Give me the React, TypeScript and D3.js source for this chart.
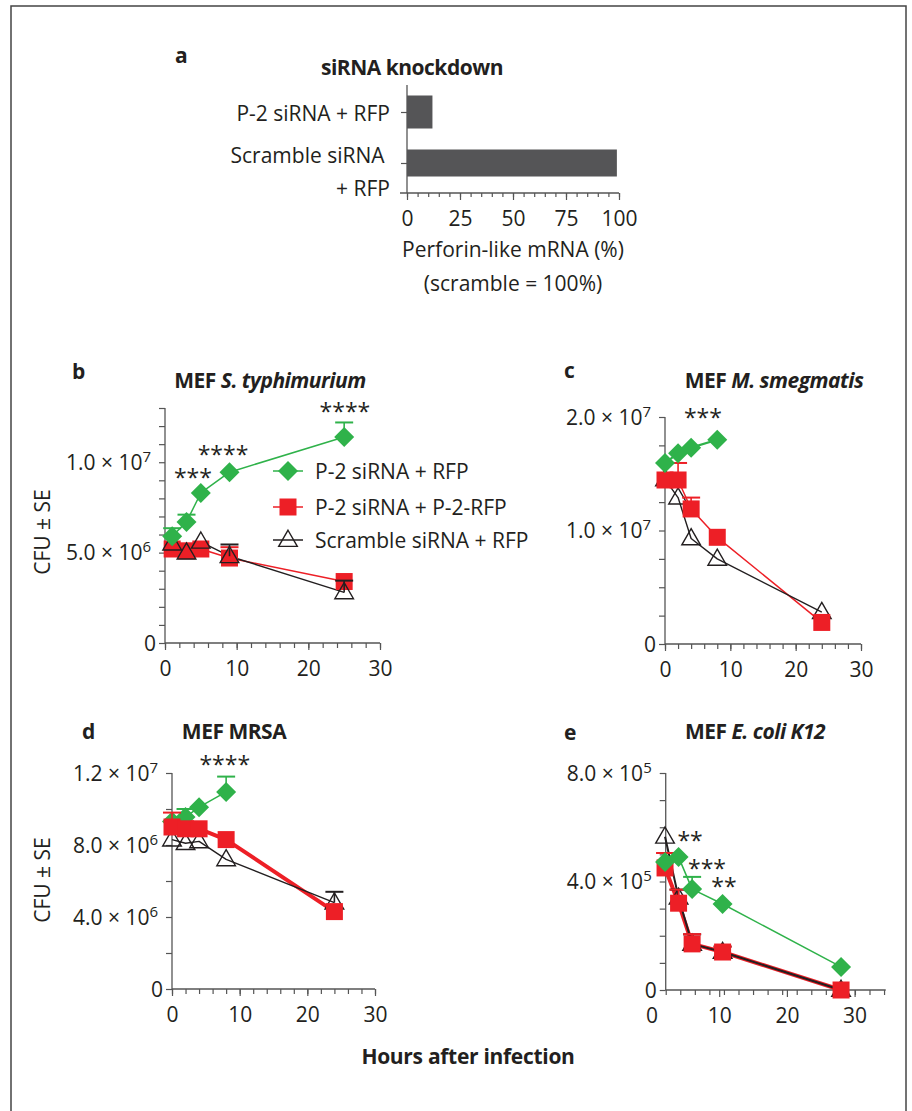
import React, { useEffect, useRef } from "react";
import * as d3 from "d3";

const FONT = "'Open Sans', sans-serif";
const FS = 21;
const GREEN = "#2fb24a";
const RED = "#ed1f26";
const INK = "#231f20";
const AXIS = "#555555";
const BAR = "#555557";

// a: siRNA knockdown
const kdCategories = ["P-2", "Scramble"];
const kdLabelLines = [["P-2 siRNA + RFP"], ["Scramble siRNA ", "+ RFP"]];
const kdValues = [12, 99];
const kdTicks = [0, 25, 50, 75, 100];

const legendNames = ["P-2 siRNA + RFP", "P-2 siRNA + P-2-RFP", "Scramble siRNA + RFP"];

// b: MEF S. typhimurium
const bHours = [1, 3, 5, 9, 25];
const bGreen = [5.9e6, 6.7e6, 8.3e6, 9.45e6, 11.4e6];
const bGreenSE = [0.45e6, 0.4e6, 0, 0, 0.8e6];
const bRed = [5.2e6, 5.1e6, 5.2e6, 4.7e6, 3.4e6];
const bRedSE = [0, 0, 0, 0.6e6, 0];
const bBlack = [5.5e6, 5.0e6, 5.6e6, 4.8e6, 2.8e6];
const bBlackSE = [0, 0, 0, 0.65e6, 0.65e6];

// c: MEF M. smegmatis
const cHours = [0, 2, 4, 8, 24];
const cGreen = [1.595e7, 1.68e7, 1.73e7, 1.8e7];
const cGreenSE = [0, 0, 0, 0];
const cRed = [1.445e7, 1.445e7, 1.19e7, 0.94e7, 0.19e7];
const cRedSE = [0, 0.15e7, 0.1e7, 0, 0];
const cBlack = [1.45e7, 1.29e7, 0.93e7, 0.75e7, 0.28e7];
const cBlackSE = [0, 0, 0, 0, 0];

// d: MEF MRSA
const dHours = [0, 2, 4, 8, 24];
const dGreen = [9.3e6, 9.55e6, 1.01e7, 1.095e7];
const dGreenSE = [0, 0.45e6, 0, 0.85e6];
const dRed = [9.0e6, 8.9e6, 8.9e6, 8.3e6, 4.3e6];
const dRedSE = [0.8e6, 0, 0, 0, 0];
const dBlack = [8.3e6, 8.1e6, 8.2e6, 7.2e6, 4.8e6];
const dBlackSE = [0, 0, 0, 0, 0.6e6];

// e: MEF E. coli K12
const eHours = [2, 4, 6, 10.5, 28];
const eGreen = [4.72e5, 4.9e5, 3.72e5, 3.17e5, 0.85e5];
const eGreenSE = [0, 0, 0.45e5, 0, 0];
const eRed = [4.5e5, 3.2e5, 1.7e5, 1.4e5, 0];
const eRedSE = [0.55e5, 0.5e5, 0.36e5, 0.2e5, 0];
const eBlack = [5.65e5, 3.4e5, 1.7e5, 1.4e5, 0];
const eBlackSE = [0, 0.3e5, 0.35e5, 0.2e5, 0];

const bStars = [
  { h: 3.9, v: 9.3e6, t: "***" },
  { h: 8.1, v: 1.056e7, t: "****" },
  { h: 25.1, v: 1.294e7, t: "****" },
];
const cStars = [{ h: 5.8, v: 2.02e7, t: "***" }];
const dStars = [{ h: 7.8, v: 1.26e7, t: "****" }];
const eStars = [
  { h: 5.7, v: 5.6e5, t: "**" },
  { h: 8.2, v: 4.58e5, t: "***" },
  { h: 10.7, v: 3.9e5, t: "**" },
];

const styleOf = {
  green: { color: GREEN, kind: "diamond" },
  red: { color: RED, kind: "square" },
  black: { color: INK, kind: "triangle" },
};

const panels = [
  {
    letter: "b", letterX: 72, letterY: 379,
    title: [["MEF ", false], ["S. typhimurium", true]], titleX: 270, titleY: 388,
    xRange: [165, 380], yRange: [643, 408], yTop: 1.3e7, yStep: 1e6, yLabels: [0, 5e6, 1e7],
    yAxisAt: 0, xEnd: 30, xMinor: d3.range(0, 31, 2),
    series: [
      { key: "green", hours: bHours, values: bGreen, se: bGreenSE, width: 1.5 },
      { key: "red", hours: bHours, values: bRed, se: bRedSE, width: 1.5 },
      { key: "black", hours: bHours, values: bBlack, se: bBlackSE, width: 1.4 },
    ],
    order: ["red", "black", "green"],
    stars: bStars, legend: true, yTitle: 532,
  },
  {
    letter: "c", letterX: 564, letterY: 378,
    title: [["MEF ", false], ["M. smegmatis", true]], titleX: 774, titleY: 388,
    xRange: [665, 861], yRange: [644, 417], yTop: 2e7, yStep: 2.5e6, yLabels: [0, 1e7, 2e7],
    yAxisAt: 0, xEnd: 30, xMinor: d3.range(0, 31, 2),
    series: [
      { key: "green", hours: cHours, values: cGreen, se: cGreenSE, width: 2.2 },
      { key: "red", hours: cHours, values: cRed, se: cRedSE, width: 1.5 },
      { key: "black", hours: cHours, values: cBlack, se: cBlackSE, width: 1.4 },
    ],
    order: ["black", "red", "green"],
    stars: cStars, legend: false,
  },
  {
    letter: "d", letterX: 82, letterY: 739,
    title: [["MEF MRSA", false]], titleX: 234, titleY: 739,
    xRange: [172, 375], yRange: [989, 773], yTop: 1.2e7, yStep: 2e6, yLabels: [0, 4e6, 8e6, 1.2e7],
    yAxisAt: 0, xEnd: 30, xMinor: d3.range(0, 31, 2),
    series: [
      { key: "green", hours: dHours, values: dGreen, se: dGreenSE, width: 1.5 },
      { key: "red", hours: dHours, values: dRed, se: dRedSE, width: 4 },
      { key: "black", hours: dHours, values: dBlack, se: dBlackSE, width: 1.4 },
    ],
    order: ["black", "green", "red"],
    stars: dStars, legend: false, yTitle: 880,
  },
  {
    letter: "e", letterX: 564, letterY: 740,
    title: [["MEF ", false], ["E. coli K12", true]], titleX: 755, titleY: 739,
    xRange: [651.5, 854.6], yRange: [990, 773], yTop: 8e5, yStep: 1e5, yLabels: [0, 4e5, 8e5],
    yAxisAt: 2.1, xEnd: 34.6, xMinor: d3.range(2.1, 34.7, 2.15),
    series: [
      { key: "green", hours: eHours, values: eGreen, se: eGreenSE, width: 1.5 },
      { key: "red", hours: eHours, values: eRed, se: eRedSE, width: 4 },
      { key: "black", hours: eHours, values: eBlack, se: eBlackSE, width: 2 },
    ],
    order: ["black", "red", "green"],
    stars: eStars, legend: false,
  },
];

const symbolPath = (kind) => {
  if (kind === "diamond") return d3.symbol(d3.symbolSquare, 200)();
  if (kind === "square") return d3.symbol(d3.symbolSquare, 289)();
  return d3.symbol(d3.symbolTriangle, 150)();
};

const drawMarker = (g, kind, color, cx, cy) => {
  const p = g.append("path").attr("d", symbolPath(kind));
  if (kind === "diamond") {
    p.attr("transform", `translate(${cx},${cy}) rotate(45)`).attr("fill", color);
  } else if (kind === "square") {
    p.attr("transform", `translate(${cx},${cy})`).attr("fill", color);
  } else {
    p.attr("transform", `translate(${cx},${cy + 1})`)
      .attr("fill", "none").attr("stroke", color).attr("stroke-width", 1.4);
  }
};

const sciLabel = (sel, v) => {
  if (v === 0) {
    sel.text("0");
    return;
  }
  const e = Math.floor(Math.log10(v) + 1e-9);
  const m = (v / Math.pow(10, e)).toFixed(1);
  sel.append("tspan").text(`${m} \u00d7 10`);
  sel.append("tspan").attr("font-size", 15).attr("dy", -8).text(String(e));
};

const drawPanel = (root, p) => {
  const g = root.append("g");
  const x = d3.scaleLinear().domain([0, 30]).range(p.xRange);
  const y = d3.scaleLinear().domain([0, p.yTop]).range(p.yRange);
  const ax = x(p.yAxisAt);
  const y0 = y(0);

  // axis lines
  g.append("line").attr("x1", ax).attr("x2", ax).attr("y1", y0).attr("y2", y(p.yTop))
    .attr("stroke", AXIS).attr("stroke-width", 1.3);
  g.append("line").attr("x1", ax).attr("x2", x(p.xEnd)).attr("y1", y0).attr("y2", y0)
    .attr("stroke", AXIS).attr("stroke-width", 1.3);

  // x ticks
  const xg = g.append("g").attr("transform", `translate(0,${y0})`);
  xg.call(d3.axisBottom(x).tickValues(p.xMinor).tickSize(5).tickSizeOuter(0).tickFormat(() => ""));
  xg.select(".domain").remove();
  xg.selectAll("line").attr("stroke", AXIS).attr("stroke-width", 1.2);

  const xm = g.append("g").attr("transform", `translate(0,${y0})`);
  xm.call(d3.axisBottom(x).tickValues([0, 10, 20, 30]).tickSize(7).tickPadding(11).tickSizeOuter(0));
  xm.select(".domain").remove();
  xm.selectAll("line").attr("stroke", AXIS).attr("stroke-width", 1.2)
    .attr("display", (d) => (d >= p.yAxisAt - 0.01 ? null : "none"));
  xm.selectAll("text").attr("font-size", FS).attr("font-family", FONT).attr("fill", INK);

  // y ticks
  const yg = g.append("g").attr("transform", `translate(${ax},0)`);
  yg.call(d3.axisLeft(y).tickValues(d3.range(0, p.yTop + p.yStep / 2, p.yStep)).tickSize(6).tickSizeOuter(0).tickFormat(() => ""));
  yg.select(".domain").remove();
  yg.selectAll("line").attr("stroke", AXIS).attr("stroke-width", 1.2);

  p.yLabels.forEach((v) => {
    const t = g.append("text").attr("x", ax - (v === 0 ? 9 : 14)).attr("y", y(v) + 7.5)
      .attr("text-anchor", "end").attr("font-size", FS).attr("font-family", FONT).attr("fill", INK);
    sciLabel(t, v);
  });

  // lines
  p.series.forEach((s) => {
    const st = styleOf[s.key];
    const pts = s.values.map((v, i) => [s.hours[i], v]);
    g.append("path").attr("d", d3.line().x((d) => x(d[0])).y((d) => y(d[1]))(pts))
      .attr("fill", "none").attr("stroke", st.color).attr("stroke-width", s.width)
      .attr("stroke-linejoin", "round");
  });

  // error bars + markers
  p.order.forEach((key) => {
    const s = p.series.find((q) => q.key === key);
    const st = styleOf[key];
    s.values.forEach((v, i) => {
      if (s.se[i] > 0) {
        const cx = x(s.hours[i]);
        g.append("line").attr("x1", cx).attr("x2", cx).attr("y1", y(v)).attr("y2", y(v + s.se[i]))
          .attr("stroke", st.color).attr("stroke-width", 1.6);
        g.append("line").attr("x1", cx - 9).attr("x2", cx + 9).attr("y1", y(v + s.se[i])).attr("y2", y(v + s.se[i]))
          .attr("stroke", st.color).attr("stroke-width", 2);
      }
    });
    s.values.forEach((v, i) => drawMarker(g, st.kind, st.color, x(s.hours[i]), y(v)));
  });

  // significance stars
  p.stars.forEach((s) => {
    g.append("text").attr("x", x(s.h)).attr("y", y(s.v) + 11).attr("text-anchor", "middle")
      .attr("font-size", 23).attr("font-family", FONT).attr("fill", INK).text(s.t);
  });

  // title and letter
  const tt = g.append("text").attr("x", p.titleX).attr("y", p.titleY).attr("text-anchor", "middle")
    .attr("font-size", FS).attr("font-weight", "bold").attr("font-family", FONT).attr("fill", INK)
    .attr("letter-spacing", -0.5);
  p.title.forEach(([txt, it]) => tt.append("tspan").attr("font-style", it ? "italic" : "normal").text(txt));
  g.append("text").attr("x", p.letterX).attr("y", p.letterY).attr("font-size", FS)
    .attr("font-weight", "bold").attr("font-family", FONT).attr("fill", INK).text(p.letter);

  if (p.yTitle) {
    g.append("text").attr("transform", `translate(50,${p.yTitle}) rotate(-90)`).attr("text-anchor", "middle")
      .attr("font-size", FS).attr("font-family", FONT).attr("fill", INK).text("CFU \u00b1 SE");
  }

  if (p.legend) {
    const rows = [471, 507, 540];
    ["green", "red", "black"].forEach((key, i) => {
      const st = styleOf[key];
      g.append("line").attr("x1", 273).attr("x2", 303).attr("y1", rows[i]).attr("y2", rows[i])
        .attr("stroke", st.color).attr("stroke-width", 1.5);
      drawMarker(g, st.kind, st.color, 288, rows[i]);
      g.append("text").attr("x", 315).attr("y", rows[i] + 7.5).attr("font-size", FS)
        .attr("font-family", FONT).attr("fill", INK).text(legendNames[i]);
    });
  }
};

const drawKnockdown = (root) => {
  const g = root.append("g");
  const x = d3.scaleLinear().domain([0, 100]).range([407, 619]);
  const y = d3.scalePoint().domain(kdCategories).range([112, 163]);
  const base = 193;

  g.append("line").attr("x1", 407).attr("x2", 407).attr("y1", 85).attr("y2", base)
    .attr("stroke", AXIS).attr("stroke-width", 1.3);
  g.append("line").attr("x1", 400).attr("x2", x(100)).attr("y1", base).attr("y2", base)
    .attr("stroke", AXIS).attr("stroke-width", 1.3);

  const yg = g.append("g").attr("transform", "translate(407,0)");
  yg.call(d3.axisLeft(y).tickSize(6).tickSizeOuter(0).tickFormat(() => ""));
  yg.select(".domain").remove();
  yg.selectAll("line").attr("stroke", AXIS).attr("stroke-width", 1.2);

  const xg = g.append("g").attr("transform", `translate(0,${base})`);
  xg.call(d3.axisBottom(x).tickValues(d3.range(0, 101, 5)).tickSize(4).tickSizeOuter(0).tickFormat(() => ""));
  xg.select(".domain").remove();
  xg.selectAll("line").attr("stroke", AXIS).attr("stroke-width", 1.2);
  const xm = g.append("g").attr("transform", `translate(0,${base})`);
  xm.call(d3.axisBottom(x).tickValues(kdTicks).tickSize(7).tickPadding(11).tickSizeOuter(0));
  xm.select(".domain").remove();
  xm.selectAll("line").attr("stroke", AXIS).attr("stroke-width", 1.2);
  xm.selectAll("text").attr("font-size", FS).attr("font-family", FONT).attr("fill", INK);

  kdCategories.forEach((c, i) => {
    const h = i === 0 ? 33 : 27;
    g.append("rect").attr("x", x(0)).attr("y", y(c) - h / 2).attr("width", x(kdValues[i]) - x(0))
      .attr("height", h).attr("fill", BAR);
  });

  const lineY = [[121], [163, 196]];
  kdLabelLines.forEach((lines, i) => {
    lines.forEach((txt, j) => {
      g.append("text").attr("x", 390).attr("y", lineY[i][j]).attr("text-anchor", "end")
        .attr("font-size", FS).attr("font-family", FONT).attr("fill", INK)
        .attr("xml:space", "preserve").style("white-space", "pre").text(txt);
    });
  });

  g.append("text").attr("x", 412).attr("y", 75).attr("text-anchor", "middle").attr("font-size", FS)
    .attr("font-weight", "bold").attr("font-family", FONT).attr("fill", INK).attr("letter-spacing", -0.5)
    .text("siRNA knockdown");
  g.append("text").attr("x", 175).attr("y", 63).attr("font-size", FS).attr("font-weight", "bold")
    .attr("font-family", FONT).attr("fill", INK).text("a");
  g.append("text").attr("x", 513).attr("y", 257).attr("text-anchor", "middle").attr("font-size", FS)
    .attr("font-family", FONT).attr("fill", INK).text("Perforin-like mRNA (%)");
  g.append("text").attr("x", 513).attr("y", 291).attr("text-anchor", "middle").attr("font-size", FS)
    .attr("font-family", FONT).attr("fill", INK).text("(scramble = 100%)");
};

const Figure = () => {
  const svgRef = useRef(null);

  useEffect(() => {
    const svg = d3.select(svgRef.current);
    svg.selectAll("*").remove();
    svg.append("rect").attr("width", 912).attr("height", 1111).attr("fill", "#fff");
    svg.append("rect").attr("x", 11).attr("y", 6).attr("width", 895).attr("height", 1130)
      .attr("fill", "none").attr("stroke", "#444").attr("stroke-width", 1.5);

    drawKnockdown(svg);
    panels.forEach((p) => drawPanel(svg, p));

    svg.append("text").attr("x", 468).attr("y", 1064).attr("text-anchor", "middle").attr("font-size", FS)
      .attr("font-weight", "bold").attr("font-family", FONT).attr("fill", INK).attr("letter-spacing", -0.3)
      .text("Hours after infection");
  }, []);

  return (
    <svg ref={svgRef} width={912} height={1111}
      style={{ position: "absolute", left: 0, top: 0, display: "block" }} />
  );
};

export default function App() {
  return <Figure />;
}
